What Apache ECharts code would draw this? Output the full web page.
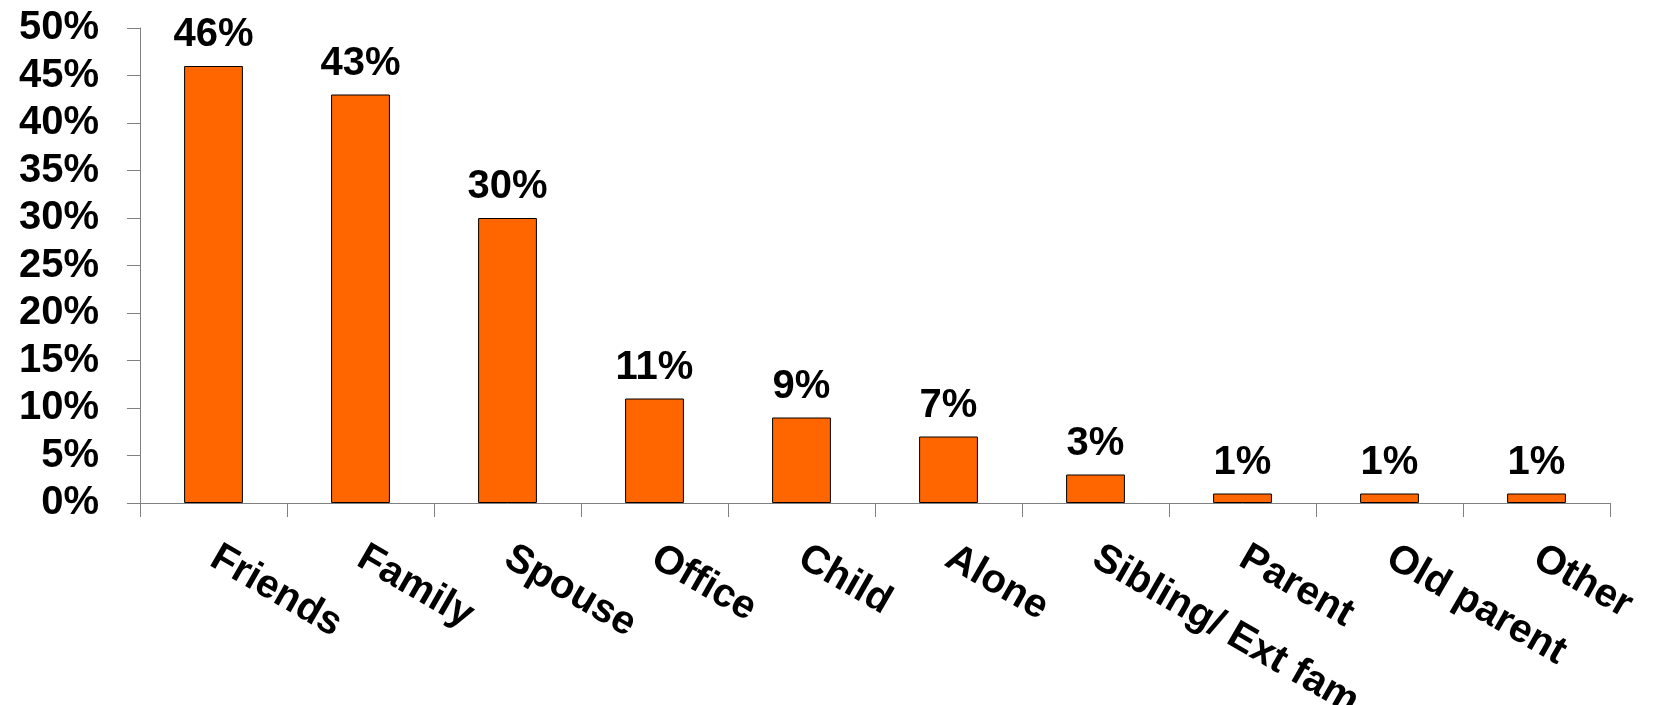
<!DOCTYPE html>
<html>
<head>
<meta charset="utf-8">
<script src="https://cdn.jsdelivr.net/npm/echarts@6/dist/echarts.min.js"></script>
<style>
  html, body { margin: 0; padding: 0; background: #ffffff; }
  #chart { width: 1659px; height: 705px; }
</style>
</head>
<body>
<div id="chart"></div>
<script>
// Who people spend their time with (share of respondents, %)
const categories = ['Friends', 'Family', 'Spouse', 'Office', 'Child', 'Alone', 'Sibling/ Ext fam', 'Parent', 'Old parent', 'Other'];
const shares = [46, 43, 30, 11, 9, 7, 3, 1, 1, 1];
const yTicks = { min: 0, max: 50, interval: 5 };

const FONT = '"Liberation Sans", Arial, sans-serif';
const textStyle = { fontFamily: FONT, fontWeight: 'bold', fontSize: 40, color: '#000000' };

const chart = echarts.init(document.getElementById('chart'), null, { renderer: 'canvas' });
chart.setOption({
  animation: false,
  backgroundColor: '#ffffff',
  grid: { left: 140, right: 49, top: 28, bottom: 202, containLabel: false, outerBoundsMode: 'none' },
  xAxis: {
    type: 'category',
    data: categories,
    boundaryGap: true,
    axisLine: { show: true, lineStyle: { color: '#808080', width: 1 } },
    axisTick: { show: true, length: 14, inside: false, alignWithLabel: false, lineStyle: { color: '#808080', width: 1 } },
    axisLabel: Object.assign({ interval: 0, rotate: -30, margin: 52 }, textStyle),
    splitLine: { show: false }
  },
  yAxis: {
    type: 'value',
    min: yTicks.min,
    max: yTicks.max,
    interval: yTicks.interval,
    axisLine: { show: true, lineStyle: { color: '#808080', width: 1 } },
    axisTick: { show: true, length: 13, inside: false, lineStyle: { color: '#808080', width: 1 } },
    axisLabel: Object.assign({ formatter: '{value}%', margin: 41 }, textStyle),
    splitLine: { show: false }
  },
  series: [{
    type: 'bar',
    data: shares,
    barCategoryGap: '60%',
    itemStyle: { color: '#FF6600', borderColor: '#000000', borderWidth: 1 },
    label: Object.assign({ show: true, position: 'top', distance: 11, formatter: '{c}%' }, textStyle)
  }]
});
</script>
</body>
</html>
